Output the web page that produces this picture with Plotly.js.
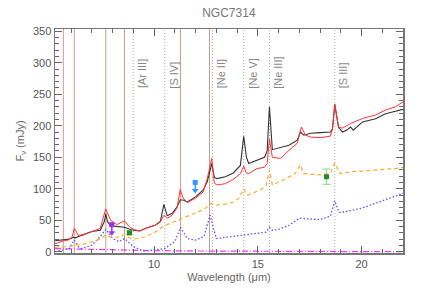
<!DOCTYPE html>
<html><head><meta charset="utf-8">
<script src="https://cdn.plot.ly/plotly-3.0.1.min.js"></script>
<style>body{margin:0;background:#fff}#c{width:436px;height:291px}</style>
</head><body><div id="c"></div>
<script>
// Observed spectrum (black)
const wlObs = [5.22,5.6,5.9,6.1,6.2,6.5,7.0,7.4,7.6,7.67,7.75,7.9,8.2,8.57,8.8,9.0,9.3,9.66,10.05,10.3,10.47,10.63,10.87,11.1,11.26,11.4,11.6,12.0,12.37,12.56,12.78,12.9,13.03,13.43,13.82,14.16,14.32,14.45,14.56,14.96,15.32,15.45,15.56,15.7,16.1,16.5,16.9,17.05,17.22,17.54,18.02,18.5,18.6,18.71,18.89,19.08,19.3,19.47,19.6,20.05,20.68,21.16,21.64,22.0];
const fObs = [17.5,18.5,20,23,22,26,32,34,48,60,48,41,40,39,36,34,33,38,42,48,75,57,61,71,82,82,79,87,98,111,140,118,116,119,125,137,183,150,140,145,150,160,230,162,165,169,177,190,185,188,189,190,195,234,198,190,193,198,193,206,211,219,223,226];
// Model spectrum (red)
const wlMod = [5.22,5.6,5.9,6.05,6.15,6.35,6.6,7.0,7.4,7.67,7.9,8.2,8.57,8.8,9.0,9.3,9.66,10.05,10.3,10.47,10.63,10.87,11.1,11.26,11.4,11.6,12.0,12.37,12.56,12.78,12.9,13.03,13.43,13.82,14.16,14.32,14.45,14.56,14.96,15.32,15.45,15.56,15.7,16.1,16.5,16.9,17.1,17.3,17.54,18.02,18.5,18.6,18.71,18.89,19.08,19.47,20.05,20.68,21.16,21.64,22.0];
const fMod = [12.7,17,19,24,37,26,27,32,37,68,50,43,49,40,35.5,33,38,42,47,58,53,58,69,99,85,78,85,95,116,148,109,106,108,115,124,136,125,124,132,134,140,179,150,148,161,172,198,185,182,181,183.5,195,234,198,196,203.6,211.5,217,225,230,238];
// Component (orange dashed)
const wlOra = [5.22,5.6,6.0,6.2,6.5,7.0,7.4,7.67,7.9,8.2,8.57,8.8,9.0,9.5,10.0,10.47,10.7,11.0,11.26,11.6,12.0,12.4,12.76,13.0,13.5,13.82,14.1,14.32,14.5,15.13,15.4,15.56,15.7,16.23,16.8,17.05,17.2,17.6,18.02,18.5,18.71,18.97,19.5,19.95,20.5,21.16,21.6,22.0];
const fOra = [7,8,9,11,11,16,20,27,23,23,27,22,20,23,30,41,44,48,52,56,61,67,77,74,76,79,85,100,90,98,105,130,106,114,124,138,124,123,122,124,141,124,127,128,129,131,132,134];
// Component (blue dotted)
const wlBlu = [5.22,5.62,5.9,6.15,6.35,6.5,7.0,7.4,7.67,8.0,8.3,8.57,8.8,9.0,9.5,10.0,10.5,11.0,11.27,11.6,12.0,12.4,12.7,13.0,14.0,14.32,15.0,15.4,15.56,15.7,16.0,16.5,17.0,18.0,18.5,18.71,18.9,19.0,20.0,21.0,22.0];
const fBlu = [0,3,5,18.5,8,5,10.6,24,35.5,21,16,21,14,8,1,2.7,5,16,38.7,21,18.5,24,58,21,25,27,29,31,38.7,34,35.5,42,53,51,56.6,81,63,62,69,81,92.6];
// Component (magenta dash-dot)
const wlMag = [5.22,6,8,10,12,15,18,22];
const fMag = [5,4.3,3,1.8,1.2,0.6,0.3,0];
// Photometry
const phX = [8.81, 18.31];
const phY = [30, 119];
const phErr = [3, 12];
const limX = [7.96, 11.98];
const limY = [43, 110];
const limTo = [30, 97];
const limColors = ['#9933ee', '#3399ff'];
// Feature lines
const pahLines = [5.62, 6.15, 7.67, 8.57, 11.27, 12.67];
const ionLines = [8.99, 10.51, 12.81, 14.32, 15.56, 18.71];
const ionLabels = ['[Ar III]', '[S IV]', '[Ne II]', '[Ne V]', '[Ne III]', '[S III]'];

const FONT = 'Liberation Sans, Arial, sans-serif';
const shapes = [];
pahLines.forEach(v => shapes.push({type:'line', xref:'x', yref:'paper', x0:v, x1:v, y0:0, y1:1, layer:'below', line:{color:'#c9a088', width:1}}));
ionLines.forEach(v => shapes.push({type:'line', xref:'x', yref:'paper', x0:v, x1:v, y0:0, y1:1, layer:'below', line:{color:'#aaa', width:1, dash:'1px,2px'}}));

const annotations = [];
ionLines.forEach((v,i) => annotations.push({x:v, y:256, xref:'x', yref:'y', text:ionLabels[i], textangle:-90, showarrow:false, xanchor:'left', yanchor:'bottom', xshift:1, font:{family:FONT, size:11, color:'#888'}}));

const traces = [
  {x:wlMag, y:fMag, mode:'lines', line:{color:'#ff33ff', width:1.2, dash:'6px,2px,1px,2px'}},
  {x:wlBlu, y:fBlu, mode:'lines', line:{color:'#5555ff', width:1.3, dash:'1.5px,2px'}},
  {x:wlOra, y:fOra, mode:'lines', line:{color:'#ffaa33', width:1.2, dash:'4px,3px'}},
  {x:wlObs, y:fObs, mode:'lines', line:{color:'#333', width:1.1}},
  {x:wlMod, y:fMod, mode:'lines', line:{color:'#ff3333', width:1}},
  {x:phX, y:phY, mode:'markers', marker:{color:'#228b22', size:5, symbol:'square'}, error_y:{type:'data', array:phErr, color:'#99dd99', thickness:1.2, width:4}}
];
limX.forEach((v,i) => {
  traces.push({x:[v,v], y:[limY[i], limTo[i]], mode:'lines', line:{color:limColors[i], width:1.5}});
  traces.push({x:[v], y:[limTo[i]], mode:'markers', marker:{color:limColors[i], size:6, symbol:'triangle-down'}});
  traces.push({x:[v], y:[limY[i]], mode:'markers', marker:{color:limColors[i], size:5, symbol:'square'}});
});

const axisCommon = {showline:true, linecolor:'#777', linewidth:1.5, mirror:'allticks', ticks:'inside', ticklen:7, tickcolor:'#666', showgrid:false, zeroline:false, tickfont:{family:FONT, size:11, color:'#555'}};

const layout = {
  width:436, height:291,
  margin:{l:55, r:33, t:29, b:38},
  paper_bgcolor:'#fff', plot_bgcolor:'#fff',
  showlegend:false,
  title:{text:'NGC7314', x:0.525, xanchor:'center', y:0.955, yanchor:'middle', font:{family:FONT, size:12, color:'#777'}},
  xaxis: Object.assign({}, axisCommon, {range:[5.22,22.0], tickvals:[10,15,20], minor:{dtick:1, tick0:0, ticks:'inside', ticklen:4, tickcolor:'#666'}, title:{text:'Wavelength (μm)', standoff:4, font:{family:FONT, size:11, color:'#666'}}}),
  yaxis: Object.assign({}, axisCommon, {range:[-2,353.5], dtick:50, tick0:0, minor:{dtick:10, ticks:'inside', ticklen:4, tickcolor:'#666'}, title:{text:'F<sub>ν</sub> (mJy)', standoff:6, font:{family:FONT, size:11, color:'#666'}}}),
  shapes:shapes,
  annotations:annotations
};
Plotly.newPlot('c', traces, layout, {staticPlot:true, displayModeBar:false});
</script></body></html>
